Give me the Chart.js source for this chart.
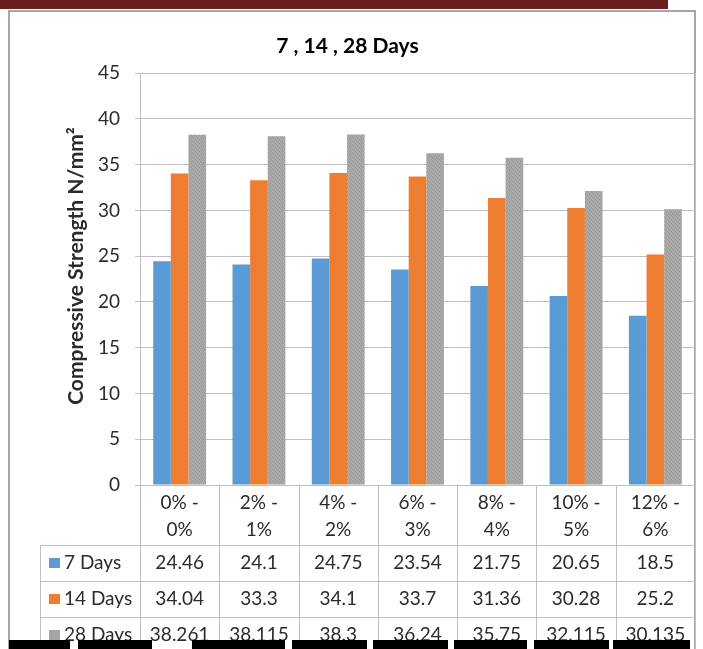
<!DOCTYPE html>
<html>
<head>
<meta charset="utf-8">
<title>7 , 14 , 28 Days</title>
<script src="https://cdn.jsdelivr.net/npm/chart.js@4.4.1/dist/chart.umd.min.js"></script>
<style>
  html, body { margin: 0; padding: 0; background: #ffffff; }
  #wrap { width: 703px; height: 649px; }
</style>
</head>
<body>
<div id="wrap"><canvas id="chart" width="703" height="649"></canvas></div>
<script>
// Mix ratios (first part - second part) on the category axis
const categories = ['0% - 0%', '2% - 1%', '4% - 2%', '6% - 3%', '8% - 4%', '10% - 5%', '12% - 6%'];

// Compressive strength (N/mm²) per curing age
const seriesNames = ['7 Days', '14 Days', '28 Days'];
const days7  = [24.46, 24.1, 24.75, 23.54, 21.75, 20.65, 18.5];
const days14 = [34.04, 33.3, 34.1, 33.7, 31.36, 30.28, 25.2];
const days28 = [38.261, 38.115, 38.3, 36.24, 35.75, 32.115, 30.135];

// Value axis ticks
const yTicks = [0, 5, 10, 15, 20, 25, 30, 35, 40, 45];

const chartTitle = '7 , 14 , 28 Days';
const yAxisTitle = 'Compressive Strength N/mm²';

const FONT = 'Lato, "Open Sans", "DejaVu Sans", sans-serif';
const TEXT = '#2b2b2b';
const LINE = '#bfbfbf';

// Speckled grey fill for the 28-day bars
function speckle() {
  const c = document.createElement('canvas');
  c.width = 4; c.height = 4;
  const g = c.getContext('2d');
  g.fillStyle = '#a5a5a5';
  g.fillRect(0, 0, 4, 4);
  g.fillStyle = '#9a9a9a';
  [[0, 0], [2, 1], [1, 2], [3, 3]].forEach(([x, y]) => g.fillRect(x, y, 1, 1));
  g.fillStyle = '#b0b0b0';
  [[1, 0], [3, 1], [0, 3], [2, 2]].forEach(([x, y]) => g.fillRect(x, y, 1, 1));
  return g.createPattern(c, 'repeat');
}

const seriesValues = [days7, days14, days28];
const seriesColors = ['#5b9bd5', '#ed7d31', speckle()];
const legendColors = ['#5b9bd5', '#ed7d31', '#a5a5a5'];

// Frame, data table below the axis, rotated axis title
const tablePlugin = {
  id: 'tablePlugin',
  beforeDraw(chart) {
    const ctx = chart.ctx;
    ctx.save();
    ctx.fillStyle = '#ffffff';
    ctx.fillRect(0, 0, chart.width, chart.height);
    ctx.fillStyle = '#681f22';
    ctx.fillRect(0, 0, 668, 9);
    ctx.strokeStyle = '#a6a6a6';
    ctx.lineWidth = 2;
    ctx.strokeRect(9, 11, 686, 700);
    ctx.restore();
  },
  afterDraw(chart) {
    const ctx = chart.ctx;
    const area = chart.chartArea;
    const xs = chart.scales.x;
    const n = categories.length;
    const colW = (area.right - area.left) / n;
    const rowTop = area.bottom + 60;
    const rowH = 36;
    const tableLeft = 40;
    const bottom = chart.height;

    ctx.save();
    ctx.strokeStyle = LINE;
    ctx.lineWidth = 1;
    ctx.beginPath();
    // column boundaries
    for (let i = 0; i <= n; i++) {
      const px = Math.round(area.left + i * colW) + 0.5;
      const top = (i === 0 || i === n) ? area.top : area.bottom;
      ctx.moveTo(px, top);
      ctx.lineTo(px, bottom);
    }
    // axis line and row separators
    ctx.moveTo(area.left, Math.round(area.bottom) + 0.5);
    ctx.lineTo(area.right, Math.round(area.bottom) + 0.5);
    for (let r = 0; r < seriesNames.length; r++) {
      const py = Math.round(rowTop + r * rowH) + 0.5;
      ctx.moveTo(tableLeft, py);
      ctx.lineTo(area.right, py);
    }
    ctx.moveTo(tableLeft + 0.5, rowTop);
    ctx.lineTo(tableLeft + 0.5, bottom);
    ctx.stroke();

    // legend keys and values
    ctx.font = '19px ' + FONT;
    ctx.textBaseline = 'middle';
    seriesNames.forEach((name, r) => {
      const cy = rowTop + r * rowH + rowH / 2;
      ctx.fillStyle = legendColors[r];
      ctx.fillRect(49, Math.round(cy) - 5, 11, 10);
      ctx.fillStyle = TEXT;
      ctx.textAlign = 'left';
      ctx.fillText(name, 64, cy);
      ctx.textAlign = 'center';
      seriesValues[r].forEach((v, i) => {
        ctx.fillText(String(v), xs.getPixelForValue(i), cy);
      });
    });

    // value axis title
    ctx.translate(76, 266);
    ctx.rotate(-Math.PI / 2);
    ctx.font = 'bold 21px ' + FONT;
    ctx.fillStyle = TEXT;
    ctx.textAlign = 'center';
    ctx.fillText(yAxisTitle, 0, 0);
    ctx.restore();

    // dark footer strip
    ctx.save();
    ctx.fillStyle = '#000000';
    [[9, 70], [78, 152], [192, 285], [292, 367], [373, 448], [454, 527], [534, 609], [613, 690]]
      .forEach(([a, b]) => ctx.fillRect(a, 640, b - a, 9));
    ctx.restore();
  }
};

new Chart(document.getElementById('chart'), {
  type: 'bar',
  data: {
    labels: categories.map(c => { const p = c.split(' - '); return [p[0] + ' -', p[1]]; }),
    datasets: seriesNames.map((name, i) => ({
      label: name,
      data: seriesValues[i],
      backgroundColor: seriesColors[i],
      borderWidth: 0,
      categoryPercentage: 0.667,
      barPercentage: 1.0
    }))
  },
  options: {
    responsive: false,
    animation: false,
    devicePixelRatio: 1,
    layout: { padding: { top: 10, right: 8, left: 0, bottom: 0 } },
    plugins: {
      legend: { display: false },
      tooltip: { enabled: false },
      title: {
        display: true,
        text: chartTitle,
        color: '#000000',
        font: { family: FONT, size: 21, weight: 'bold', lineHeight: 1.2 },
        padding: { top: 24, bottom: 14 }
      }
    },
    scales: {
      x: {
        grid: { display: false, drawTicks: false },
        border: { display: false },
        ticks: {
          color: TEXT,
          padding: 4,
          maxRotation: 0,
          autoSkip: false,
          font: { family: FONT, size: 19, lineHeight: 1.42 }
        },
        afterFit(s) { s.height = 164; }
      },
      y: {
        min: 0,
        max: 45,
        afterBuildTicks(s) { s.ticks = yTicks.map(v => ({ value: v })); },
        grid: { color: LINE, tickLength: 5, drawTicks: true },
        border: { display: true, color: LINE },
        ticks: {
          color: TEXT,
          padding: 15,
          font: { family: FONT, size: 19 }
        },
        afterFit(s) { s.width = 140; }
      }
    }
  },
  plugins: [tablePlugin]
});
</script>
</body>
</html>
